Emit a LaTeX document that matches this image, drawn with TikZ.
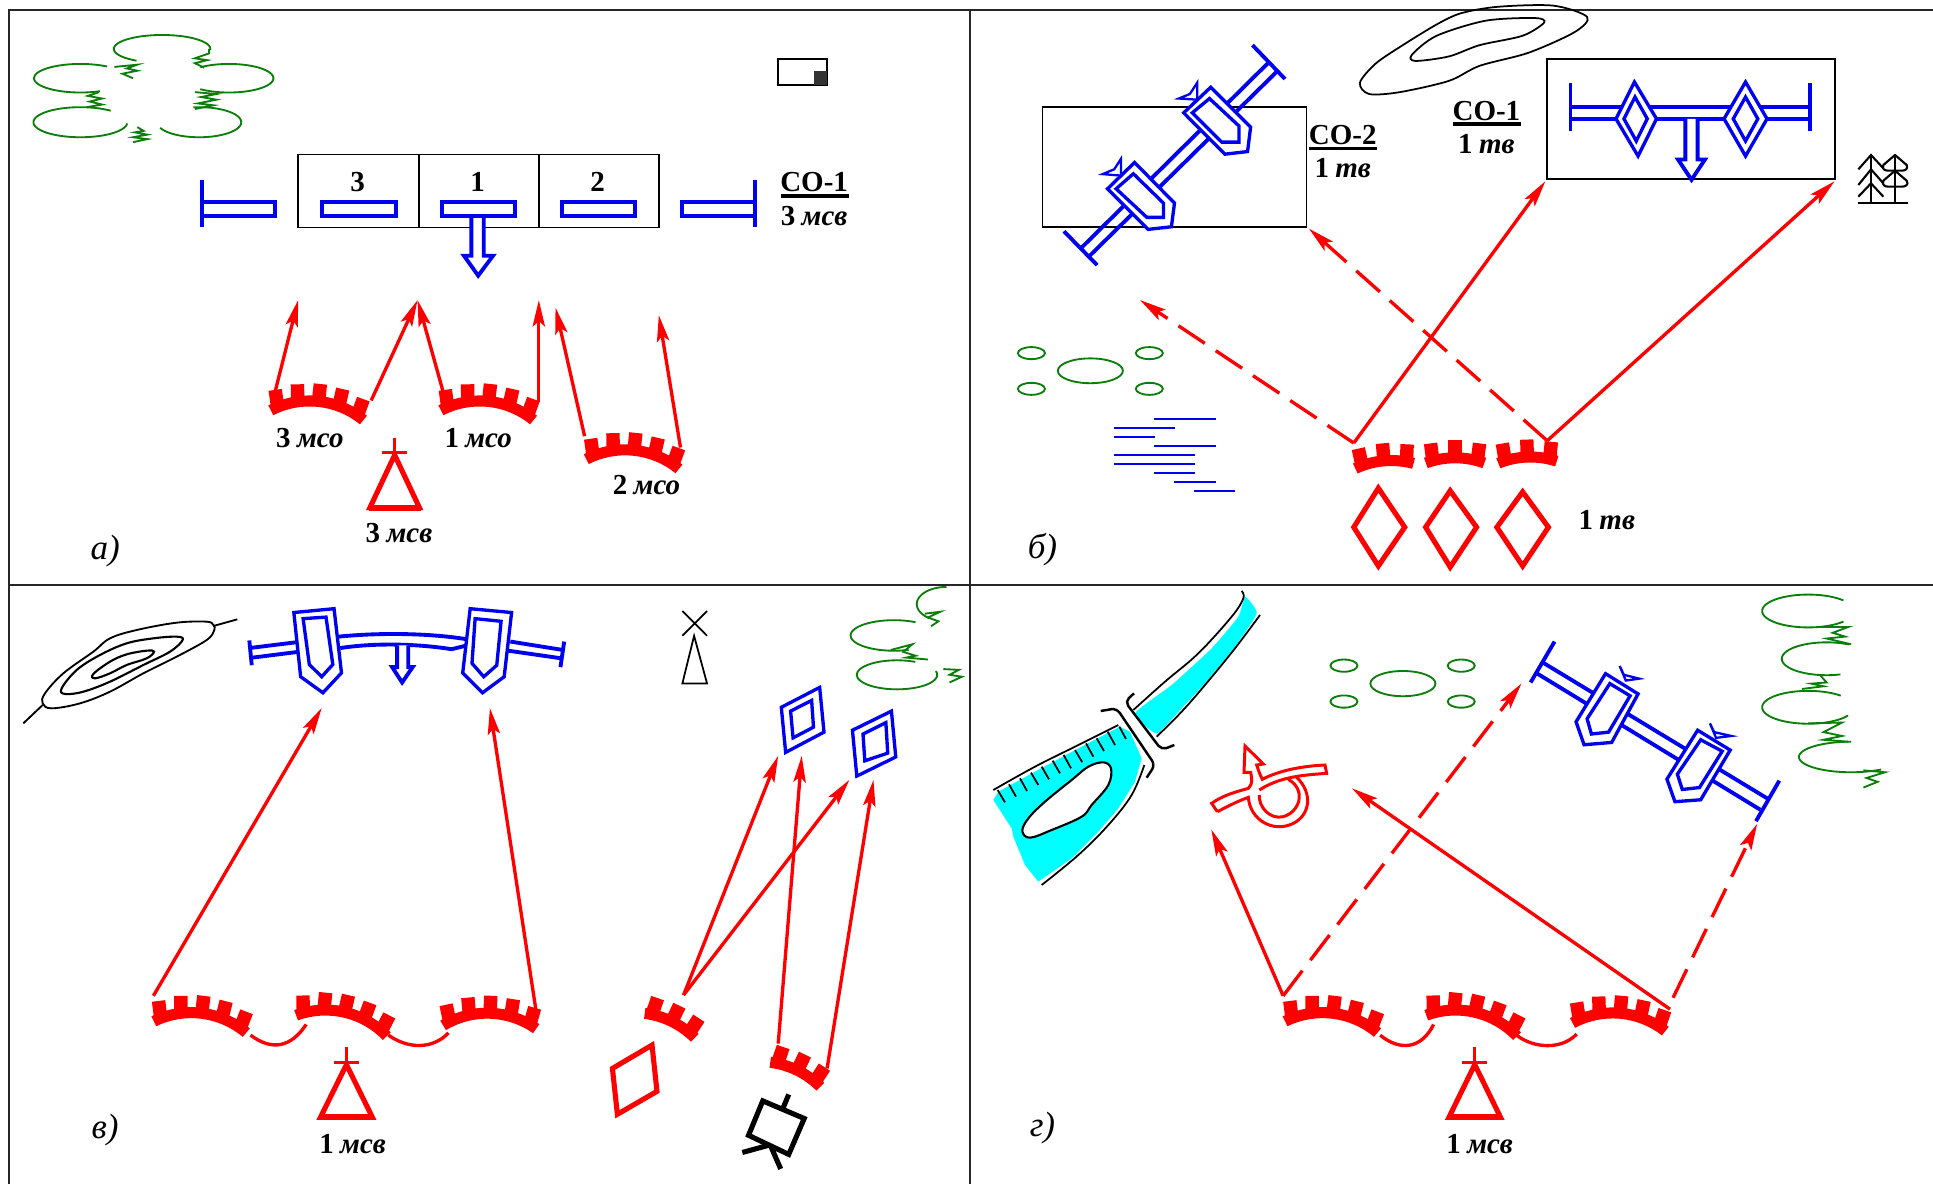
\documentclass[tikz,border=0pt]{standalone}
\usepackage{fontspec}
\setmainfont{Liberation Serif}
\usetikzlibrary{arrows.meta}
\definecolor{bushgreen}{RGB}{10,125,10}
\definecolor{milblue}{RGB}{0,0,240}
\definecolor{milred}{RGB}{255,0,0}
\definecolor{watercyan}{RGB}{0,255,255}
\tikzset{
  frameline/.style={draw=black!85,line width=1.5pt},
  boxline/.style={draw=black,line width=1.05pt},
  bluel/.style={draw=milblue,line width=2.2pt},
  bluet/.style={draw=milblue,line width=1.9pt,fill=white,line join=miter},
  bluec/.style={draw=milblue,line width=1.3pt,line join=miter},
  bushl/.style={draw=bushgreen,line width=1.05pt},
  hilll/.style={draw=black,line width=1pt},
  marsh/.style={draw=milblue,line width=1.1pt},
  redarrow/.style={draw=milred,line width=1.9pt,-{Stealth[length=15pt,width=7pt,inset=3pt]}},
  reddash/.style={redarrow,dash pattern=on 18pt off 7.5pt},
  redfig/.style={draw=milred,line width=2.9pt,line join=miter},
  redthin/.style={draw=milred,line width=1.9pt},
  redloop/.style={draw=milred,line width=1.7pt,line join=miter},
  milt/.style={inner sep=0pt,font=\fontsize{16.5}{18}\selectfont},
  panelt/.style={inner sep=0pt,font=\fontsize{20}{22}\selectfont\itshape},
  underl/.style={draw=black,line width=1.9pt},
  uniform/.style={x=0.0066667cm,y=-0.0066667cm}
}
\newcommand{\mil}[2]{{\bfseries #1\hspace{.22em}\itshape #2}}
\newcommand{\link}[4]{\coordinate (#2s) at (#3); \coordinate (#2e) at (#4); \draw[#1] (#2s) -- (#2e);}
% elliptical bush lobe: cx,cy,rx,ry,from,to (angles clockwise on the page)
\newcommand{\lobe}[6]{\draw[bushl] plot[domain=#5:#6,samples=40,smooth,variable=\t] ({#1+#3*cos(\t)},{#2+#4*sin(\t)});}
% x,y,rot,R,A,n,d : battlemented arc, teeth lean half as much as the arc turns
\newcommand{\trench}[7]{%
\begin{scope}[shift={(#1,#2)},x=0.02cm,y=0.02cm,rotate=#3,shift={(0,-#4)}]
  \fill[milred] (90+#5:#4) arc[start angle=90+#5,end angle=90-#5,radius=#4*0.02cm]
     -- ({90-#5}:{#4+11}) arc[start angle=90-#5,end angle=90+#5,radius=(#4+11)*0.02cm] -- cycle;
  \foreach \i in {1,...,#6}{
    \pgfmathsetmacro\aa{90-#5+#7+(\i-1)*(2*#5-2*#7)/(#6-1)}
    \pgfmathsetmacro\tt{90+(\aa-90)*0.5}
    \pgfmathsetmacro\px{(#4+4)*cos(\aa)}
    \pgfmathsetmacro\py{(#4+4)*sin(\aa)}
    \pgfmathsetmacro\ux{cos(\tt)}
    \pgfmathsetmacro\uy{sin(\tt)}
    \pgfmathsetmacro\w{#7*#4*0.01745}
    \fill[milred] (\px-\w*\uy,\py+\w*\ux) -- (\px-\w*\uy+19*\ux,\py+\w*\ux+19*\uy)
                  -- (\px+\w*\uy+19*\ux,\py-\w*\ux+19*\uy) -- (\px+\w*\uy,\py-\w*\ux) -- cycle;
  }
\end{scope}}
% triangle with flag: apex x,y ; half base ; base y
\newcommand{\hq}[4]{%
  \draw[redfig,fill=none] (#1,#2) -- (#1+#3,#4) -- (#1-#3,#4) -- cycle;
  \draw[redthin,line width=1.5pt] (#1,#2+5) -- (#1,#2-45);
  \draw[redthin,line width=1.5pt] (#1-20,#2-6) -- (#1+20,#2-6);
  \draw[draw=milred,line width=3.6pt] (#1-#3-2,#4) -- (#1+#3+2,#4);}
\begin{document}
\begin{tikzpicture}[x=.02cm,y=-.02cm]
\useasboundingbox (0,0) rectangle (1933,1184);
\fill[white] (0,0) rectangle (1933,1184);
% frame
\draw[frameline] (9,1184) -- (9,10) -- (1933,10);
\draw[frameline] (970,10) -- (970,1184);
\draw[frameline] (9,585) -- (1933,585);

%%%%%%%%%%%%%%%% panel a
\begin{scope}[x=0.012372cm,y=-0.007526cm]
 \lobe{262}{130}{78}{37}{122}{365}
 \lobe{130}{208}{75}{38}{65}{305}
 \lobe{370}{208}{72}{38}{230}{490}
 \lobe{130}{325}{76}{40}{5}{310}
 \lobe{322}{325}{68}{40}{262}{518}
 \draw[bushl] (185,178) -- (222,172) -- (205,182) -- (222,188) -- (198,196) -- (215,208);
 \draw[bushl] (338,130) -- (338,142) -- (315,155) -- (335,160) -- (315,168) -- (330,180);
 \draw[bushl] (160,245) -- (142,255) -- (165,262) -- (145,270) -- (165,278) -- (140,285);
 \draw[bushl] (315,245) -- (350,250) -- (325,258) -- (350,265) -- (320,275) -- (345,280) -- (315,290);
 \draw[bushl] (222,338) -- (232,348) -- (218,352) -- (238,358) -- (215,365) -- (238,370) -- (215,378);
 % scale mark
 \draw[boxline,fill=white] (1258,157) rectangle (1337,225);
 \fill[black!80] (1316,190) rectangle (1337,225);
 % box
 \draw[boxline] (482,411) rectangle (1065,605);
 \draw[boxline] (677,411) -- (677,605) (871,411) -- (871,605);
 \node[milt] (a3) at (578,485) {\bfseries 3};
 \node[milt] (a1) at (772,485) {\bfseries 1};
 \node[milt] (a2) at (966,485) {\bfseries 2};
 % blue
 \draw[bluel] (327,478) -- (327,603);
 \draw[bluel] (327,538) rectangle (445,575);
 \draw[bluel] (1220,478) -- (1220,603);
 \draw[bluel] (1102,538) rectangle (1220,575);
 \draw[bluel] (520,538) rectangle (640,575);
 \draw[bluel] (908,538) rectangle (1027,575);
 \draw[bluel,fill=white] (762,575) -- (762,680) -- (750,680) -- (773,733) -- (797,680) -- (782,680) -- (782,575);
 \draw[bluel] (714,538) rectangle (833,575);
 % text
 \node[milt] (so1) at (1316,485) {\bfseries СО-1};
 \draw[underl] (1262,521) -- (1372,521);
 \node[milt] (msv1) at (1316,575) {\mil{3}{мсв}};
 \node[milt] (m3) at (501,1165) {\mil{3}{мсо}};
 \node[milt] (m1) at (773,1165) {\mil{1}{мсо}};
 \node[milt] (m2) at (1045,1290) {\mil{2}{мсо}};
 \node[milt] (msv2) at (645,1417) {\mil{3}{мсв}};
 \node[panelt] (pa) at (170,1465) {а)};
 % trenches
 \trench{514}{1082}{-6}{80}{33}{5}{4.8}
 \trench{789}{1082}{-6}{80}{33}{5}{4.8}
 \trench{1024}{1212}{-6}{80}{33}{5}{4.8}
 \hq{638}{1210}{40}{1350}
 \link{redarrow}{aa}{445,1040}{482,798}
 \link{redarrow}{ab}{600,1065}{675,798}
 \link{redarrow}{ac}{716,1040}{675,798}
 \link{redarrow}{ad}{871,1070}{871,798}
 \link{redarrow}{ae}{945,1160}{898,818}
 \link{redarrow}{af}{1100,1190}{1065,838}
\end{scope}

%%%%%%%%%%%%%%%% panel b
\begin{scope}[shift={(970,0)},x=0.012283cm,y=-0.007526cm]
 \draw[hilll] plot[smooth cycle] coordinates {(1005,45) (985,85) (910,140) (830,175) (780,215) (700,245) (650,250) (635,220) (660,170) (700,125) (760,65) (800,35) (860,18) (950,15)};
 \draw[hilll] plot[smooth cycle] coordinates {(935,60) (900,95) (830,120) (780,150) (725,162) (720,145) (760,95) (840,55) (920,48)};
 \draw[boxline] (118,285) rectangle (548,604);
 \draw[boxline] (940,157) rectangle (1408,476);
 % road 1
 \draw[bluel] (460,120) -- (513,210);
 \draw[bluel] (153,615) -- (207,705);
 \draw[bluel] (487,165) -- (182,658);
 \draw[bluel] (500,190) -- (195,680);
 \draw[bluet] (392,232) -- (457,338) -- (452,403) -- (415,410) -- (348,300) -- cycle;
 \draw[bluet] (390,262) -- (438,335) -- (438,378) -- (410,378) -- (362,300) -- cycle;
 \draw[bluec] (340,262) -- (370,265) -- (370,220) -- (358,250) -- cycle;
 \draw[bluet] (268,432) -- (333,540) -- (328,603) -- (290,610) -- (224,502) -- cycle;
 \draw[bluet] (266,462) -- (315,540) -- (315,578) -- (288,578) -- (238,502) -- cycle;
 \draw[bluec] (216,463) -- (246,467) -- (246,422) -- (235,450) -- cycle;
 % road 2
 \draw[bluel] (978,222) -- (978,348) (1368,222) -- (1368,348);
 \draw[bluel] (978,285) -- (1368,285) (978,316) -- (1368,316);
 \draw[bluel,fill=white] (1165,316) -- (1165,424) -- (1153,424) -- (1175,478) -- (1197,424) -- (1185,424) -- (1185,316);
 \draw[bluet] (1082,218) -- (1118,316) -- (1088,415) -- (1052,316) -- cycle;
 \draw[bluet] (1083,258) -- (1103,316) -- (1085,375) -- (1065,316) -- cycle;
 \draw[bluet] (1263,218) -- (1298,316) -- (1263,415) -- (1228,316) -- cycle;
 \draw[bluet] (1263,258) -- (1283,316) -- (1263,375) -- (1243,316) -- cycle;
 % bush
 \draw[bushl] (196,986) ellipse (53 and 33);
 \draw[bushl] (100,939) ellipse (22 and 16) (292,939) ellipse (22 and 16) (100,1034) ellipse (22 and 16) (292,1034) ellipse (22 and 16);
 % marsh
 \draw[marsh] (300,1113) -- (400,1113) (234,1138) -- (334,1138) (234,1162) -- (302,1162) (300,1186) -- (400,1186) (234,1210) -- (367,1210) (234,1234) -- (367,1234) (300,1258) -- (367,1258) (333,1282) -- (400,1282) (365,1306) -- (432,1306);
 % text
 \node[milt] (so2) at (607,358) {\bfseries СО-2};
 \draw[underl] (552,395) -- (663,395);
 \node[milt] (tv2) at (607,447) {\mil{1}{тв}};
 \node[milt] (so1b) at (841,295) {\bfseries СО-1};
 \draw[underl] (786,330) -- (897,330);
 \node[milt] (tv1) at (841,383) {\mil{1}{тв}};
 \node[milt] (tv3) at (1037,1382) {\mil{1}{тв}};
 \node[panelt] (pb) at (118,1462) {б)};
 % trenches
 \trench{675}{1240}{5}{80}{20}{3}{4.8}
 \trench{790}{1232}{0}{80}{20}{3}{4.8}
 \trench{908}{1230}{2}{80}{20}{3}{4.8}
 % diamonds
 \draw[redfig] (665,1298) -- (708,1402) -- (665,1505) -- (625,1402) -- cycle;
 \draw[redfig] (782,1305) -- (825,1402) -- (782,1508) -- (742,1402) -- cycle;
 \draw[redfig] (900,1308) -- (942,1402) -- (900,1505) -- (858,1402) -- cycle;
 \link{reddash}{ba}{625,1178}{277,798}
 \link{reddash}{bb}{940,1172}{552,608}
 \link{redarrow}{bc}{625,1178}{937,482}
 \link{redarrow}{bd}{940,1172}{1408,482}
\end{scope}
% trees
\begin{scope}[shift={(1840,140)},uniform]
 \draw[hilll,line width=1.2pt] (55,188) -- (203,188);
 \draw[hilll,line width=1.2pt] (93,45) -- (93,188) (165,45) -- (165,188);
 \draw[hilll,line width=1.2pt] (55,88) -- (93,45) -- (130,85) (55,135) -- (93,88) -- (130,130) (55,170) -- (93,130) -- (130,170);
 \draw[hilll,line width=1.2pt,line join=round] (165,45) -- (200,75) .. controls (205,88) and (195,92) .. (185,92) -- (145,92) .. controls (135,92) and (125,88) .. (130,75) -- cycle;
 \draw[hilll,line width=1.2pt,line join=round] (165,92) -- (200,122) .. controls (208,135) and (195,140) .. (185,140) -- (145,140) .. controls (135,140) and (125,135) .. (130,122) -- cycle;
\end{scope}

%%%%%%%%%%%%%%%% panel c
\begin{scope}[shift={(20,610)},uniform]
 \draw[hilll,line width=1.05pt] plot[smooth cycle,tension=.6] coordinates {(580,45) (560,35) (470,38) (350,60) (270,85) (220,125) (130,190) (75,250) (68,280) (95,295) (180,280) (270,245) (370,190) (470,140) (560,90) (583,60)};
 \draw[hilll,line width=1.05pt] (580,48) -- (652,28) (68,285) -- (10,340);
 \draw[hilll,line width=1.2pt] plot[smooth cycle,tension=.6] coordinates {(488,90) (470,80) (400,85) (320,100) (240,135) (170,180) (125,235) (135,252) (190,245) (270,215) (370,165) (450,125)};
 \draw[hilll,line width=1.2pt] plot[smooth cycle,tension=.6] coordinates {(402,125) (380,122) (320,133) (270,155) (220,192) (225,205) (270,190) (320,165) (380,145)};
\end{scope}
\begin{scope}[shift={(0,585)},x=0.012372cm,y=-0.00764cm]
 % road
 \draw[bluel] (403,145) -- (407,210);
 \draw[bluel] (403,165) -- (478,150) (408,190) -- (482,175);
 \draw[bluel] (912,148) -- (906,215);
 \draw[bluel] (825,148) -- (910,170) (822,172) -- (908,192);
 \draw[bluel] (548,135) .. controls (610,125) and (690,125) .. (755,142);
 \draw[bluel] (550,165) .. controls (610,150) and (680,155) .. (730,168) -- (755,158);
 \draw[bluel,fill=white] (642,158) -- (642,215) -- (634,215) -- (650,255) -- (667,215) -- (660,215) -- (660,158);
 \draw[bluet] (475,72) -- (540,62) -- (552,230) -- (522,282) -- (486,240) -- cycle;
 \draw[bluet] (490,88) -- (527,84) -- (538,208) -- (520,240) -- (500,208) -- cycle;
 \draw[bluet] (760,62) -- (827,72) -- (815,240) -- (780,282) -- (748,230) -- cycle;
 \draw[bluet] (768,88) -- (810,95) -- (803,210) -- (782,240) -- (763,205) -- cycle;
 % tower
 \draw[hilll] (1103,68) -- (1143,133) (1143,68) -- (1103,133);
 \draw[hilll] (1122,133) -- (1143,258) -- (1103,258) -- cycle;
 % bush
 \lobe{1530}{50}{48}{45}{125}{270}
 \draw[bushl] (1495,75) -- (1520,70) -- (1500,85) -- (1517,95) -- (1505,108);
 \lobe{1445}{132}{70}{40}{70}{300}
 \draw[bushl] (1440,170) -- (1475,155) -- (1460,175) -- (1480,185) -- (1465,190) -- (1500,195);
 \lobe{1450}{235}{65}{38}{-15}{297}
 \draw[bushl] (1525,220) -- (1550,222) -- (1535,235) -- (1555,240) -- (1535,255);
 % blue diamonds
 \draw[bluet] (1325,268) -- (1332,385) -- (1270,438) -- (1263,320) -- cycle;
 \draw[bluet] (1312,302) -- (1315,372) -- (1282,400) -- (1278,330) -- cycle;
 \draw[bluet] (1441,330) -- (1448,450) -- (1385,500) -- (1378,380) -- cycle;
 \draw[bluet] (1432,360) -- (1435,440) -- (1398,460) -- (1395,390) -- cycle;
 \draw[redfig] (1054,1204) -- (1062,1325) -- (998,1385) -- (990,1265) -- cycle;
 % camera
 \draw[draw=black,line width=2.9pt,line join=miter] (1233,1350) -- (1300,1396) -- (1275,1490) -- (1210,1440) -- cycle;
 \draw[draw=black,line width=2.9pt] (1275,1333) -- (1265,1372) (1245,1465) -- (1200,1485) (1245,1465) -- (1262,1528);
 % trenches
 \trench{325}{1135}{-7}{80}{33}{5}{4.8}
 \trench{555}{1132}{-13}{80}{33}{5}{4.8}
 \trench{792}{1135}{-2}{80}{33}{5}{4.8}
 \trench{1082}{1155}{-26}{80}{19}{3}{4.8}
 \trench{1285}{1283}{-26}{80}{19}{3}{4.8}
 \draw[redthin] (405,1178) .. controls (440,1220) and (470,1210) .. (495,1150);
 \draw[redthin] (628,1178) .. controls (660,1215) and (700,1215) .. (725,1172);
 \hq{560}{1255}{42}{1393}
 \node[milt] (msvc) at (570,1462) {\mil{1}{мсв}};
 \node[panelt] (pc) at (170,1425) {в)};
 \link{redarrow}{ca}{248,1075}{520,322}
 \link{redarrow}{cb}{868,1130}{792,322}
 \link{redarrow}{cc}{1105,1073}{1258,447}
 \link{redarrow}{cd}{1105,1073}{1373,510}
 \link{redarrow}{ce}{1258,1200}{1296,447}
 \link{redarrow}{cf}{1337,1265}{1412,510}
\end{scope}

%%%%%%%%%%%%%%%% panel d
\begin{scope}[shift={(985,585)},uniform]
 \fill[watercyan] plot[smooth cycle,tension=.3] coordinates {(780,35) (815,85) (750,185) (660,295) (590,370) (515,445) (450,385) (560,300) (680,190) (760,95)};
 \fill[watercyan] (25,645) -- (40,620) -- (150,560) -- (280,490) -- (405,425) -- (435,440) -- (470,520) -- (450,590) -- (400,670) -- (340,740) -- (260,820) -- (160,890) -- (120,840) -- (85,755) -- (80,730) -- cycle;
 \draw[hilll,fill=white,line width=1.2pt] plot[smooth cycle,tension=.6] coordinates {(355,532) (378,550) (370,600) (320,660) (290,695) (200,735) (135,758) (112,738) (130,700) (180,650) (260,585) (310,545)};
 \draw[hilll] plot[smooth,tension=.6] coordinates {(770,18) (775,40) (740,95) (640,205) (540,290) (445,375)};
 \draw[hilll] plot[smooth,tension=.6] coordinates {(825,90) (750,190) (660,300) (590,380) (515,455)};
 \draw[hilll] plot[smooth,tension=.6] coordinates {(25,615) (150,545) (270,485) (400,420)};
 \draw[hilll] plot[smooth,tension=.6] coordinates {(478,540) (440,630) (370,720) (280,810) (170,900)};
 \draw[hilll] (38,615) -- (60,652) (72,598) -- (93,635) (105,580) -- (126,618) (138,563) -- (160,600) (170,545) -- (192,583) (203,527) -- (225,565) (236,510) -- (258,550) (270,495) -- (292,532) (303,475) -- (325,515) (335,460) -- (357,498) (368,440) -- (390,480) (403,425) -- (423,462);
 % bridge
 \draw[draw=black,line width=1.4pt,rounded corners=3pt] (347,378) -- (395,370) -- (510,540) -- (485,578);
 \draw[draw=black,line width=1.4pt,rounded corners=3pt] (447,325) -- (420,350) -- (530,495) -- (568,480);
\end{scope}
\begin{scope}[shift={(970,585)},x=0.012283cm,y=-0.00764cm]
 % bush
 \draw[bushl] (705,258) ellipse (53 and 33);
 \draw[bushl] (609,211) ellipse (22 and 16) (800,211) ellipse (22 and 16) (609,305) ellipse (22 and 16) (800,305) ellipse (22 and 16);
 % road
 \draw[bluel] (952,148) -- (913,255) (1318,512) -- (1280,618);
 \draw[bluel] (932,202) -- (1300,560) (920,228) -- (1287,588);
 \draw[bluet] (1035,232) -- (1088,285) -- (1045,412) -- (1000,418) -- (987,358) -- cycle;
 \draw[bluet] (1042,258) -- (1075,290) -- (1040,385) -- (1012,390) -- (1005,350) -- cycle;
 \draw[bluec] (1058,212) -- (1068,250) -- (1090,245) -- (1065,235) -- cycle;
 \draw[bluet] (1185,380) -- (1238,432) -- (1190,562) -- (1148,567) -- (1135,508) -- cycle;
 \draw[bluet] (1190,405) -- (1225,435) -- (1188,530) -- (1160,535) -- (1152,495) -- cycle;
 \draw[bluec] (1205,362) -- (1215,400) -- (1240,395) -- (1212,385) -- cycle;
 % bush right
 \lobe{1365}{68}{75}{43}{40}{320}
 \draw[bushl] (1385,110) -- (1430,110) -- (1405,125) -- (1425,135) -- (1395,140) -- (1435,155);
 \lobe{1395}{193}{73}{43}{72}{300}
 \draw[bushl] (1385,237) -- (1395,255) -- (1370,258) -- (1390,265) -- (1355,272);
 \lobe{1365}{320}{75}{43}{30}{315}
 \draw[bushl] (1365,362) -- (1420,360) -- (1390,385) -- (1420,395) -- (1390,405) -- (1430,410);
 \lobe{1435}{450}{85}{40}{55}{270}
 \draw[bushl] (1455,485) -- (1490,490) -- (1460,505) -- (1478,515) -- (1455,530);
 % trenches
 \trench{590}{1135}{-7}{80}{33}{5}{4.8}
 \trench{820}{1132}{-13}{80}{33}{5}{4.8}
 \trench{1058}{1135}{-5}{80}{33}{5}{4.8}
 \draw[redthin] (668,1178) .. controls (700,1220) and (735,1215) .. (755,1150);
 \draw[redthin] (890,1178) .. controls (920,1215) and (965,1215) .. (988,1175);
 \hq{822}{1255}{42}{1393}
 \node[milt] (msvd) at (830,1462) {\mil{1}{мсв}};
 \node[panelt] (pd) at (118,1422) {г)};
 \link{redarrow}{da}{510,1075}{393,640}
 \link{reddash}{db}{510,1075}{898,258}
 \link{redarrow}{dc}{1140,1110}{622,532}
 \link{reddash}{dd}{1145,1080}{1282,625}
\end{scope}
% red loop
\begin{scope}[shift={(1200,740)},uniform]
 \draw[redloop] (52,215) -- (35,190) .. controls (70,165) and (110,155) .. (145,145) .. controls (160,130) and (155,115) .. (152,97) -- (132,97) -- (135,18) -- (190,72) -- (170,75) .. controls (175,90) and (180,105) .. (187,118) .. controls (240,90) and (310,78) .. (375,75) -- (380,100) .. controls (310,105) and (240,110) .. (178,150);
 \draw[redloop] (52,215) .. controls (85,198) and (110,185) .. (145,172) .. controls (150,240) and (220,280) .. (280,250) .. controls (330,225) and (340,160) .. (290,112);
 \draw[redloop] (178,165) .. controls (175,200) and (210,240) .. (250,230) .. controls (300,215) and (320,150) .. (265,118);
\end{scope}
\end{tikzpicture}
\end{document}
